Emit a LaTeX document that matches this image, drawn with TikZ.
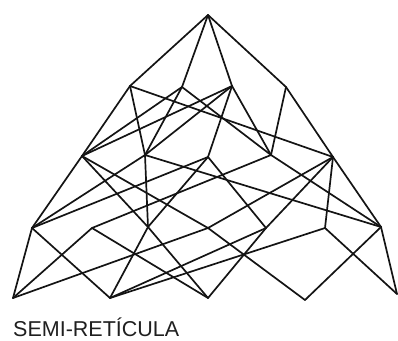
\documentclass[tikz,border=0pt]{standalone}
\usepackage{fontspec}
\setmainfont{Liberation Sans}
\begin{document}
\begin{tikzpicture}[x=1pt,y=-1pt,
  edge/.style={draw=black!92, line width=1.7pt, line cap=round, line join=round},
  caption/.style={anchor=base west, inner sep=0pt, font=\fontsize{21.5}{21.5}\selectfont, text=black!88}]
\useasboundingbox (0,0) rectangle (398,340);
% row 0
\coordinate (T) at (208,15);
% row 1
\coordinate (A) at (130,86);
\coordinate (B) at (182,87);
\coordinate (C) at (232,86);
\coordinate (D) at (286,87);
% row 2
\coordinate (E) at (82,156);
\coordinate (F) at (145,155);
\coordinate (G) at (208,157);
\coordinate (H) at (271,155);
\coordinate (I) at (333,157);
% row 3
\coordinate (J) at (32,228);
\coordinate (K) at (92,228);
\coordinate (L) at (148,227);
\coordinate (M) at (208,228);
\coordinate (N) at (266,228);
\coordinate (O) at (325,228);
\coordinate (P) at (381,227);
% row 4
\coordinate (Q) at (13,298);
\coordinate (R) at (110,298);
\coordinate (S) at (208,298);
\coordinate (U) at (305,300);
\coordinate (V) at (397,294);
\foreach \a/\b in {T/A,T/B,T/C,T/D,
  A/E,A/F,A/I, B/E,B/F,B/H, C/E,C/F,C/G,C/H, D/H,D/I,
  E/J,E/L,E/M, F/J,F/L,F/P, G/J,G/L,G/N, H/K,H/P, I/M,I/N,I/O,I/P,
  J/Q,J/R, K/Q,K/S, L/R,L/S, M/Q,M/U, N/R,N/S, O/R,O/V, P/U,P/V}
  \draw[edge] (\a) -- (\b);
\node[caption] (title) at (13,336) {SEMI-RETÍCULA};
\end{tikzpicture}
\end{document}
